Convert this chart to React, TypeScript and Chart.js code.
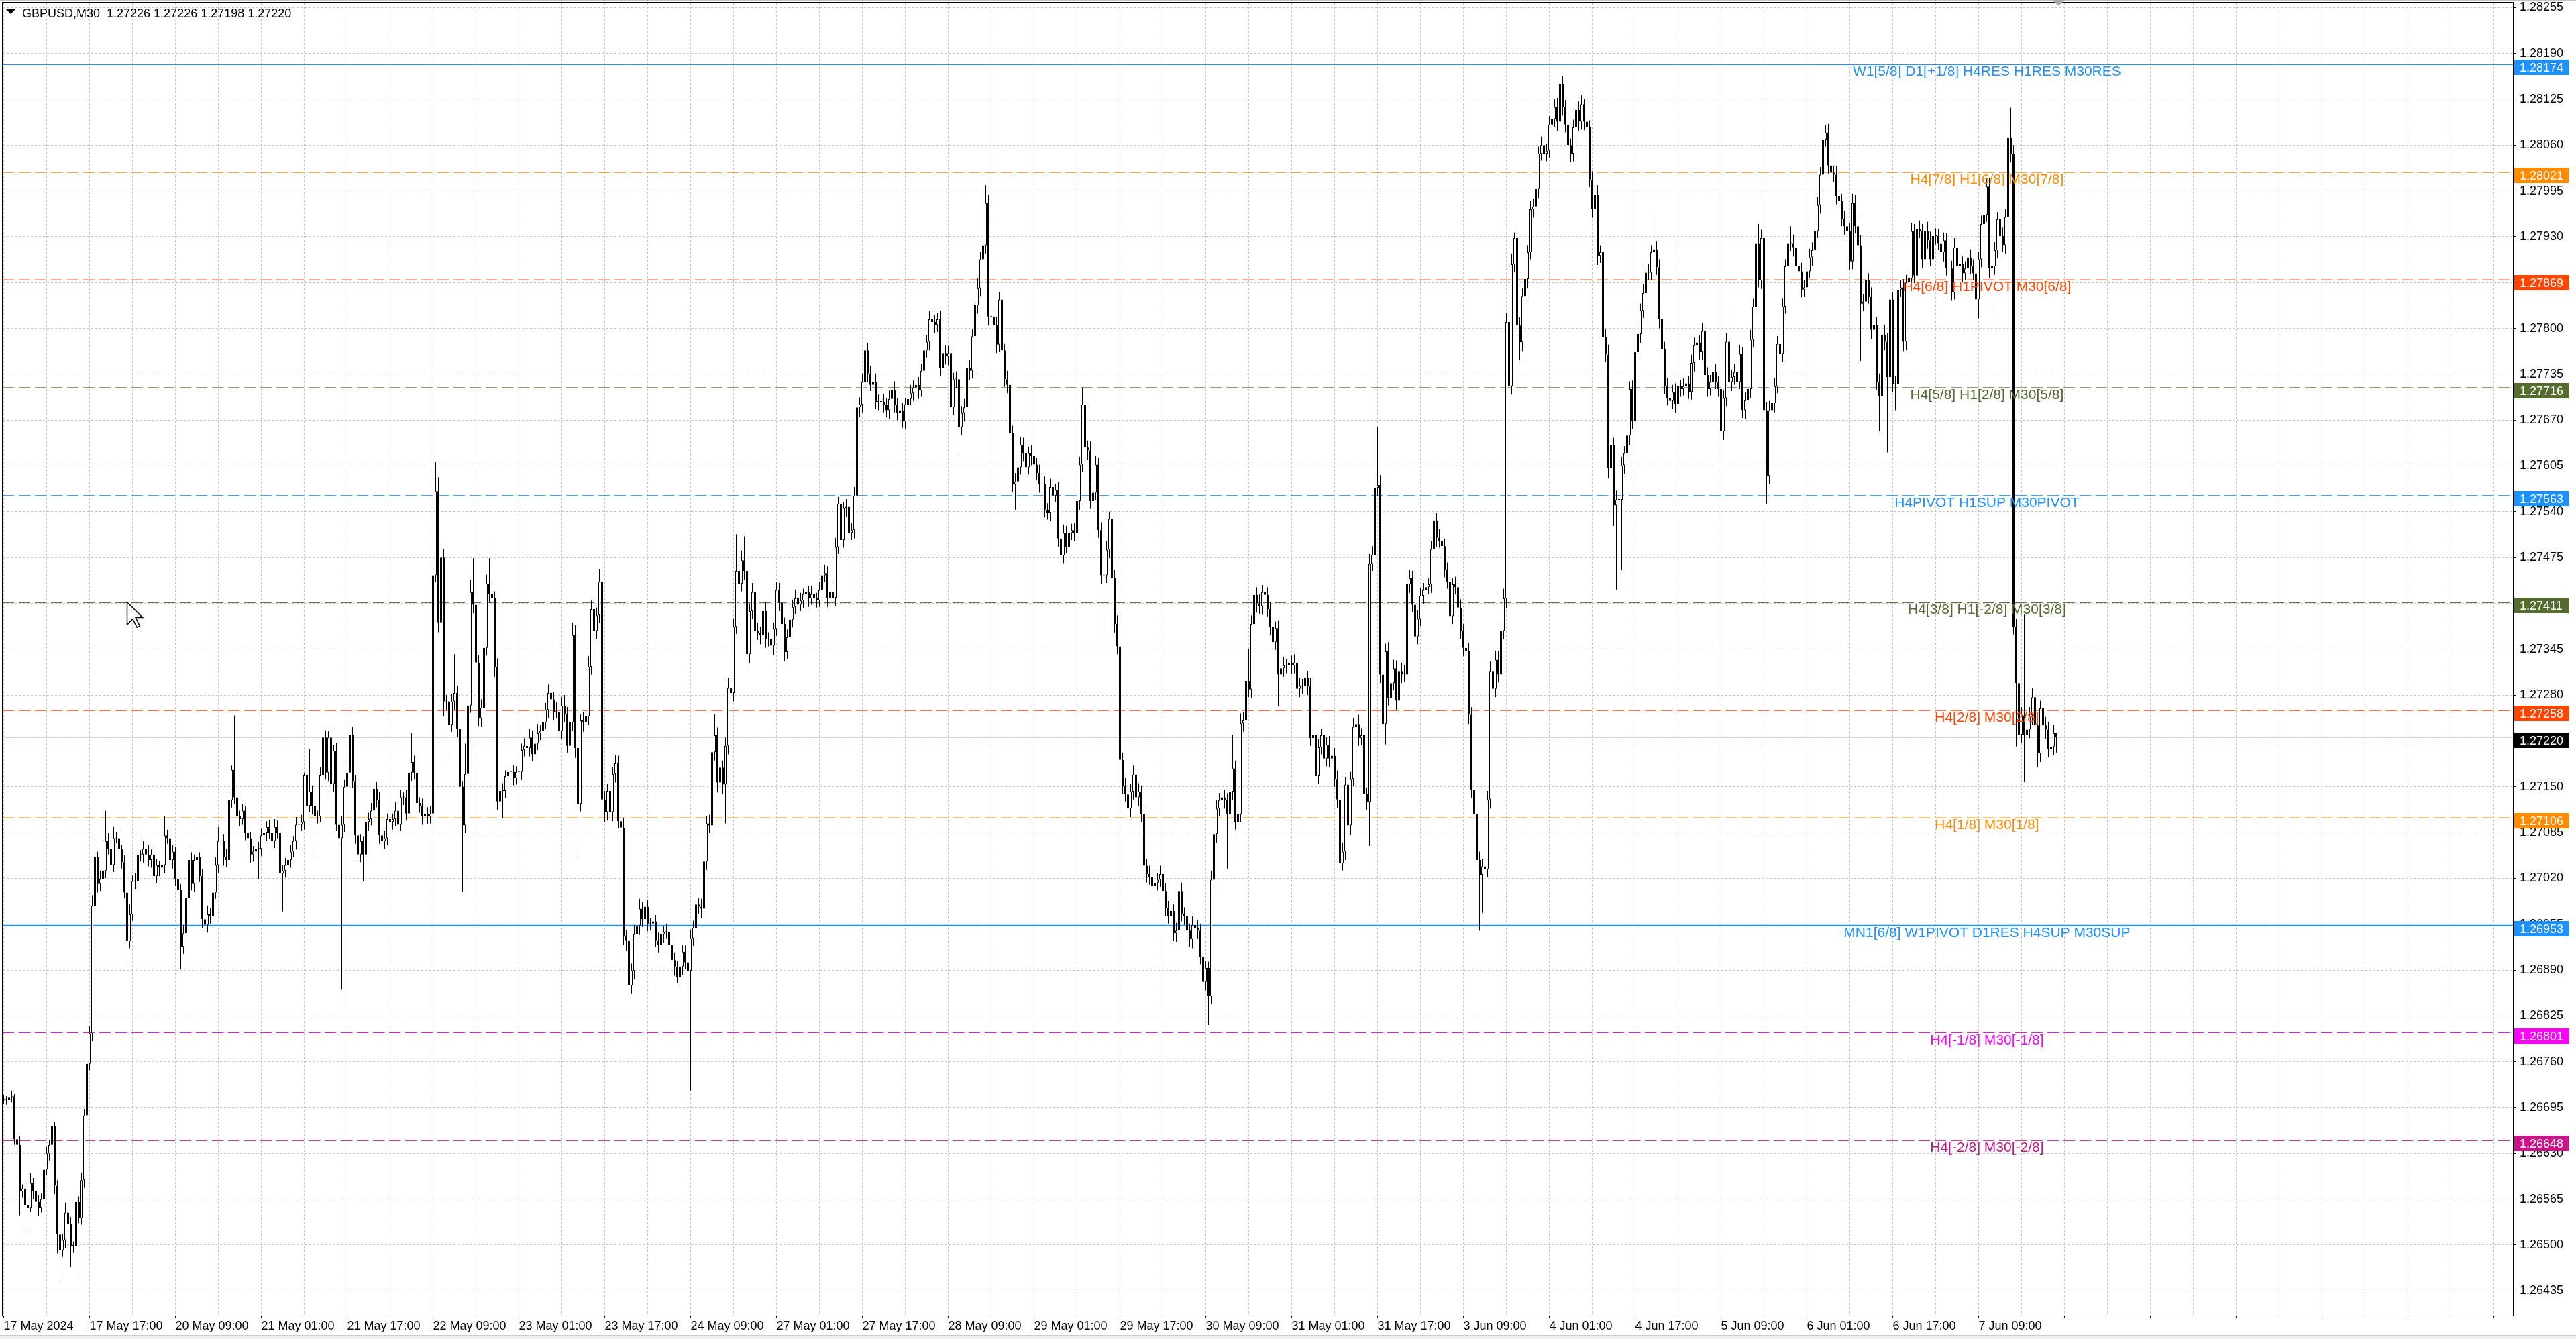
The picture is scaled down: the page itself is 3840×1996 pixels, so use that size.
import React, { useEffect, useRef } from 'react';
import { Chart, registerables } from 'chart.js';

Chart.register(...registerables);

const SYMBOL = 'GBPUSD,M30';
const BASE_PRICE = 1.26;
const POINT = 0.00001;

// M30 candles, in points above 1.26000. Open of each bar is the previous close.
const FIRST_OPEN = 705;
const CLOSES = [
  707, 706, 709, 711, 650, 642, 576, 580, 557, 553, 588, 576, 561, 553, 565, 607,
  630, 642, 669, 584, 515, 492, 507, 546, 530, 499, 499, 561, 538, 592, 684, 757,
  800, 981, 1050, 1012, 1019, 1031, 1073, 1062, 1039, 1077, 1077, 1062, 1043, 1000, 931, 969,
  1016, 1016, 1054, 1054, 1062, 1054, 1046, 1054, 1023, 1039, 1035, 1039, 1081, 1077, 1046, 1058,
  1019, 1004, 923, 942, 992, 1046, 1012, 1046, 1050, 1023, 962, 954, 969, 966, 1000, 1039,
  1073, 1073, 1050, 1046, 1131, 1174, 1135, 1108, 1104, 1116, 1085, 1077, 1054, 1058, 1062, 1062,
  1081, 1085, 1093, 1085, 1073, 1093, 1085, 1027, 1031, 1039, 1046, 1058, 1073, 1096, 1096, 1100,
  1166, 1123, 1143, 1123, 1108, 1108, 1166, 1220, 1170, 1220, 1154, 1201, 1096, 1077, 1096, 1150,
  1170, 1224, 1158, 1081, 1054, 1073, 1054, 1100, 1104, 1116, 1147, 1131, 1081, 1073, 1077, 1104,
  1100, 1104, 1116, 1096, 1135, 1135, 1112, 1170, 1185, 1170, 1127, 1123, 1108, 1112, 1108, 1112,
  1450, 1569, 1383, 1475, 1271, 1271, 1238, 1271, 1283, 1232, 1150, 1095, 1168, 1265, 1426, 1408,
  1326, 1247, 1262, 1347, 1438, 1423, 1417, 1320, 1129, 1144, 1144, 1165, 1171, 1171, 1162, 1171,
  1171, 1202, 1208, 1205, 1220, 1196, 1211, 1226, 1229, 1241, 1259, 1283, 1274, 1256, 1256, 1229,
  1265, 1253, 1208, 1241, 1365, 1205, 1126, 1244, 1241, 1250, 1320, 1402, 1371, 1393, 1441, 1132,
  1114, 1144, 1114, 1168, 1183, 1101, 1092, 938, 932, 868, 889, 941, 953, 977, 962, 980,
  956, 956, 959, 932, 926, 941, 944, 944, 926, 904, 895, 880, 895, 916, 901, 889,
  935, 950, 983, 980, 977, 1044, 1098, 1095, 1199, 1223, 1156, 1177, 1153, 1208, 1290, 1283,
  1377, 1456, 1438, 1471, 1456, 1338, 1399, 1426, 1371, 1368, 1365, 1399, 1359, 1359, 1350, 1374,
  1429, 1411, 1381, 1341, 1362, 1387, 1405, 1417, 1408, 1414, 1423, 1426, 1417, 1423, 1417, 1414,
  1429, 1450, 1453, 1417, 1426, 1418, 1490, 1551, 1500, 1545, 1547, 1510, 1514, 1563, 1688, 1692,
  1724, 1769, 1736, 1720, 1724, 1696, 1696, 1696, 1692, 1684, 1700, 1712, 1692, 1680, 1684, 1668,
  1692, 1700, 1708, 1716, 1720, 1712, 1740, 1769, 1781, 1813, 1809, 1805, 1813, 1744, 1765, 1760,
  1765, 1688, 1728, 1728, 1660, 1680, 1688, 1744, 1740, 1789, 1833, 1857, 1898, 1918, 1978, 1817,
  1817, 1805, 1777, 1841, 1769, 1728, 1720, 1652, 1579, 1583, 1603, 1635, 1623, 1603, 1623, 1619,
  1607, 1595, 1579, 1579, 1543, 1539, 1575, 1563, 1571, 1502, 1478, 1510, 1490, 1510, 1514, 1510,
  1555, 1607, 1692, 1631, 1627, 1555, 1567, 1607, 1514, 1450, 1450, 1486, 1530, 1446, 1381, 1349,
  1188, 1151, 1139, 1119, 1143, 1167, 1135, 1143, 1111, 1038, 1026, 1022, 1010, 1014, 1018, 1026,
  1002, 978, 966, 974, 942, 946, 1002, 970, 966, 946, 934, 954, 950, 946, 909, 873,
  893, 853, 1018, 1083, 1119, 1131, 1135, 1131, 1111, 1143, 1176, 1099, 1111, 1240, 1244, 1300,
  1288, 1381, 1422, 1410, 1406, 1426, 1422, 1402, 1377, 1355, 1375, 1309, 1318, 1322, 1322, 1326,
  1322, 1326, 1289, 1293, 1293, 1305, 1293, 1219, 1223, 1165, 1206, 1223, 1190, 1210, 1190, 1194,
  1161, 1132, 1041, 1058, 1153, 1095, 1161, 1235, 1239, 1219, 1223, 1140, 1128, 1466, 1479, 1574,
  1578, 1309, 1239, 1342, 1276, 1297, 1318, 1272, 1314, 1309, 1309, 1437, 1446, 1408, 1363, 1388,
  1421, 1429, 1433, 1437, 1487, 1528, 1503, 1499, 1491, 1458, 1441, 1392, 1437, 1433, 1404, 1371,
  1347, 1342, 1252, 1145, 1111, 1046, 1025, 1037, 1033, 1132, 1314, 1289, 1330, 1309, 1371, 1417,
  1809, 1718, 1891, 1928, 1804, 1780, 1846, 1870, 1908, 1969, 1973, 1998, 2048, 2060, 2048, 2052,
  2089, 2097, 2114, 2093, 2147, 2114, 2089, 2060, 2048, 2085, 2110, 2093, 2118, 2093, 2085, 2011,
  1969, 1990, 1903, 1908, 1788, 1763, 1602, 1635, 1549, 1557, 1557, 1606, 1623, 1648, 1714, 1668,
  1767, 1792, 1825, 1850, 1879, 1879, 1908, 1912, 1887, 1813, 1771, 1718, 1701, 1697, 1710, 1693,
  1718, 1714, 1718, 1722, 1710, 1751, 1776, 1780, 1767, 1796, 1734, 1714, 1724, 1738, 1724, 1714,
  1654, 1701, 1781, 1724, 1731, 1738, 1724, 1764, 1684, 1698, 1714, 1784, 1831, 1921, 1868, 1928,
  1684, 1591, 1684, 1694, 1718, 1778, 1764, 1831, 1888, 1921, 1921, 1915, 1888, 1881, 1855, 1858,
  1881, 1901, 1911, 1938, 1975, 2018, 2068, 2078, 2031, 2021, 2018, 1988, 1981, 1955, 1945, 1938,
  1895, 1978, 1945, 1918, 1835, 1838, 1868, 1845, 1798, 1805, 1724, 1704, 1791, 1781, 1731, 1841,
  1721, 1721, 1855, 1858, 1781, 1865, 1871, 1938, 1875, 1941, 1938, 1898, 1938, 1925, 1898, 1931,
  1931, 1921, 1908, 1925, 1885, 1885, 1851, 1915, 1888, 1891, 1878, 1885, 1901, 1888, 1878, 1841,
  1898, 1948, 1961, 2001, 1885, 1888, 1911, 1955, 1931, 1918, 1958, 2071, 2048, 1377, 1297, 1224,
  1251, 1224, 1231, 1251, 1277, 1237, 1197, 1261, 1237, 1231, 1204, 1207, 1226, 1220,
];

// wick length above the body / below the body, in points
const UPPER_WICKS = [
  6, 4, 5, 8, 3, 10, 12, 6, 9, 5, 14, 7, 6, 10, 8, 12,
  9, 7, 27, 6, 8, 11, 9, 14, 7, 10, 6, 12, 8, 11, 9, 13,
  10, 15, 27, 8, 12, 9, 43, 11, 7, 16, 9, 12, 6, 10, 8, 14,
  8, 12, 9, 6, 11, 8, 13, 7, 10, 9, 6, 12, 27, 8, 11, 9,
  7, 10, 8, 12, 9, 23, 11, 8, 13, 7, 10, 6, 12, 9, 8, 11,
  20, 8, 10, 12, 9, 6, 77, 11, 8, 10, 7, 13, 9, 8, 11, 10,
  9, 12, 8, 10, 7, 11, 9, 13, 8, 10, 12, 9, 7, 11, 8, 10,
  4, 10, 61, 9, 12, 8, 11, 15, 10, 9, 13, 8, 11, 9, 12, 10,
  9, 42, 11, 8, 13, 10, 7, 12, 9, 11, 8, 10, 12, 9, 11, 8,
  10, 8, 12, 9, 11, 7, 10, 12, 41, 9, 11, 8, 10, 7, 9, 11,
  14, 42, 20, 15, 12, 9, 14, 11, 55, 10, 13, 8, 43, 12, 18, 48,
  14, 11, 12, 16, 13, 36, 79, 10, 12, 9, 11, 8, 10, 12, 9, 8,
  10, 9, 11, 8, 12, 10, 9, 13, 8, 11, 10, 12, 9, 10, 14, 8,
  12, 15, 10, 13, 18, 14, 11, 9, 12, 10, 15, 12, 14, 11, 18, 13,
  12, 10, 14, 9, 12, 11, 10, 14, 9, 12, 10, 13, 11, 14, 9, 12,
  10, 8, 12, 9, 11, 10, 8, 12, 9, 10, 11, 8, 12, 10, 9, 11,
  12, 10, 13, 9, 11, 14, 10, 12, 15, 30, 11, 13, 10, 12, 14, 11,
  12, 52, 10, 14, 34, 12, 11, 13, 10, 12, 9, 11, 13, 10, 12, 9,
  11, 10, 12, 9, 11, 8, 10, 12, 9, 11, 8, 10, 9, 12, 10, 8,
  11, 9, 12, 10, 8, 11, 13, 10, 12, 9, 11, 14, 10, 12, 13, 10,
  12, 14, 10, 11, 9, 12, 10, 8, 11, 9, 12, 10, 13, 9, 11, 10,
  9, 11, 12, 10, 8, 11, 10, 12, 9, 11, 13, 10, 9, 12, 10, 11,
  10, 12, 9, 11, 13, 10, 12, 9, 11, 10, 12, 14, 10, 13, 25, 12,
  11, 14, 12, 10, 13, 9, 12, 11, 10, 12, 9, 11, 10, 12, 9, 11,
  10, 9, 12, 10, 11, 9, 12, 10, 8, 11, 9, 12, 10, 11, 9, 10,
  12, 11, 24, 12, 10, 13, 11, 12, 10, 11, 14, 12, 10, 13, 11, 12,
  11, 10, 12, 9, 11, 13, 10, 12, 9, 11, 10, 12, 9, 11, 10, 12,
  9, 11, 10, 12, 9, 11, 10, 12, 9, 11, 10, 12, 9, 11, 10, 12,
  10, 9, 13, 11, 12, 10, 9, 11, 10, 12, 48, 11, 10, 14, 12, 11,
  45, 12, 44, 11, 13, 10, 12, 11, 10, 12, 9, 11, 10, 12, 9, 11,
  10, 12, 9, 11, 10, 12, 9, 11, 13, 10, 12, 9, 11, 10, 12, 9,
  11, 12, 10, 13, 11, 14, 10, 12, 11, 13, 10, 12, 9, 14, 12, 16,
  82, 14, 12, 11, 13, 10, 12, 11, 10, 12, 14, 12, 11, 10, 12, 13,
  11, 10, 12, 9, 11, 13, 10, 12, 9, 11, 10, 12, 9, 11, 10, 12,
  10, 9, 12, 11, 10, 13, 12, 11, 10, 12, 14, 11, 13, 12, 11, 14,
  13, 12, 15, 8, 14, 12, 11, 13, 10, 12, 11, 13, 10, 12, 11, 10,
  12, 10, 11, 13, 24, 11, 10, 12, 9, 11, 10, 12, 13, 8, 11, 10,
  12, 11, 13, 10, 12, 11, 14, 12, 10, 13, 11, 12, 10, 13, 11, 12,
  11, 12, 10, 13, 11, 12, 10, 57, 12, 11, 13, 10, 12, 11, 10, 12,
  10, 9, 11, 8, 10, 12, 11, 13, 10, 12, 9, 11, 10, 12, 11, 9,
  12, 11, 13, 44, 10, 12, 11, 13, 10, 12, 11, 14, 12, 13, 27, 12,
  11, 12, 13, 10, 12, 11, 14, 12, 10, 13, 24, 12, 11, 10, 12, 11,
  10, 12, 11, 13, 12, 11, 10, 10, 12, 11, 10, 12, 11, 10, 12, 11,
  12, 13, 11, 12, 14, 11, 12, 10, 13, 12, 11, 12, 117, 14, 12, 13,
  11, 12, 13, 10, 12, 11, 13, 12, 10, 11, 12, 10, 11, 13, 12, 10,
  11, 10, 12, 11, 10, 12, 11, 13, 10, 12, 11, 10, 12, 11, 10, 12,
  11, 12, 10, 13, 12, 11, 12, 10, 11, 12, 11, 14, 42, 12, 11, 13,
  12, 143, 11, 12, 13, 10, 12, 11, 13, 12, 11, 10, 12, 0,
];

const LOWER_WICKS = [
  5, 7, 4, 6, 8, 10, 34, 9, 38, 34, 6, 11, 8, 12, 7, 9,
  8, 10, 6, 12, 27, 43, 9, 11, 8, 30, 10, 42, 7, 9, 11, 8,
  9, 11, 8, 12, 10, 9, 11, 8, 12, 10, 7, 11, 9, 8, 31, 10,
  9, 11, 8, 10, 12, 7, 9, 11, 8, 10, 12, 9, 11, 8, 10, 12,
  9, 11, 31, 10, 8, 12, 9, 11, 10, 8, 12, 9, 11, 10, 8, 9,
  11, 9, 12, 10, 8, 11, 9, 12, 10, 8, 11, 9, 12, 10, 9, 43,
  10, 8, 12, 9, 11, 10, 8, 12, 54, 10, 9, 11, 8, 12, 10, 9,
  11, 10, 9, 12, 54, 10, 8, 11, 9, 12, 10, 11, 9, 13, 215, 10,
  9, 11, 10, 12, 9, 11, 38, 10, 12, 9, 11, 10, 12, 9, 11, 10,
  9, 11, 10, 12, 9, 11, 10, 8, 12, 9, 11, 10, 12, 9, 11, 10,
  12, 10, 14, 11, 21, 13, 46, 10, 12, 11, 12, 94, 11, 13, 10, 12,
  13, 11, 12, 10, 11, 12, 10, 14, 12, 11, 39, 10, 9, 11, 10, 9,
  10, 11, 9, 10, 12, 10, 11, 9, 10, 11, 9, 12, 10, 11, 9, 10,
  11, 12, 10, 13, 12, 14, 73, 11, 13, 10, 12, 11, 10, 12, 11, 73,
  14, 12, 11, 13, 12, 10, 14, 12, 15, 15, 11, 12, 10, 13, 11, 12,
  11, 10, 12, 9, 11, 10, 12, 9, 11, 10, 13, 9, 11, 12, 10, 11,
  170, 11, 12, 10, 13, 11, 12, 10, 11, 12, 14, 11, 13, 55, 12, 11,
  12, 10, 13, 11, 12, 18, 13, 11, 12, 10, 13, 11, 12, 10, 11, 13,
  10, 12, 11, 13, 10, 12, 11, 10, 12, 9, 11, 10, 12, 9, 11, 10,
  9, 11, 10, 12, 9, 11, 12, 10, 13, 11, 12, 76, 10, 12, 11, 13,
  11, 10, 12, 9, 11, 10, 12, 9, 11, 10, 12, 9, 11, 10, 12, 9,
  10, 12, 9, 11, 10, 12, 9, 11, 10, 12, 9, 11, 10, 12, 9, 11,
  12, 10, 11, 13, 37, 11, 12, 10, 13, 11, 10, 12, 11, 10, 12, 13,
  97, 11, 12, 10, 13, 11, 12, 10, 11, 36, 12, 10, 11, 12, 10, 13,
  11, 10, 12, 9, 11, 10, 12, 11, 9, 12, 10, 11, 9, 12, 10, 11,
  10, 12, 11, 10, 13, 11, 12, 10, 11, 13, 97, 11, 12, 10, 13, 11,
  12, 11, 10, 13, 12, 11, 10, 12, 11, 10, 12, 11, 10, 12, 11, 10,
  12, 11, 10, 13, 11, 12, 10, 11, 12, 10, 11, 13, 10, 12, 11, 10,
  12, 41, 11, 10, 12, 11, 10, 12, 77, 11, 12, 10, 44, 11, 12, 10,
  11, 12, 10, 13, 11, 12, 10, 11, 12, 10, 11, 45, 10, 12, 11, 10,
  12, 11, 10, 12, 11, 10, 13, 11, 10, 12, 11, 10, 12, 11, 13, 10,
  11, 12, 41, 10, 12, 11, 13, 10, 12, 11, 10, 12, 11, 62, 10, 12,
  11, 12, 62, 29, 11, 12, 10, 13, 11, 12, 10, 11, 12, 10, 13, 11,
  10, 12, 11, 10, 12, 11, 13, 10, 12, 11, 10, 12, 11, 10, 12, 11,
  12, 10, 13, 11, 12, 10, 79, 54, 12, 11, 13, 10, 12, 11, 13, 12,
  14, 70, 12, 11, 13, 25, 12, 11, 13, 10, 12, 11, 13, 10, 12, 11,
  10, 12, 11, 13, 10, 12, 11, 10, 12, 11, 10, 13, 11, 12, 10, 11,
  12, 11, 13, 10, 12, 11, 14, 12, 29, 120, 11, 99, 12, 10, 13, 11,
  12, 11, 13, 10, 12, 11, 10, 12, 11, 13, 12, 11, 10, 12, 11, 13,
  10, 11, 9, 12, 10, 11, 12, 10, 11, 12, 10, 11, 9, 12, 10, 11,
  10, 12, 11, 10, 13, 11, 12, 10, 11, 12, 10, 13, 11, 12, 10, 12,
  10, 40, 12, 11, 13, 10, 12, 11, 10, 12, 11, 13, 10, 12, 11, 10,
  11, 10, 12, 11, 10, 12, 11, 10, 12, 11, 10, 12, 11, 10, 12, 11,
  12, 11, 10, 12, 81, 11, 12, 10, 13, 11, 12, 50, 11, 12, 107, 10,
  11, 37, 12, 10, 13, 11, 12, 10, 11, 12, 10, 13, 11, 12, 10, 11,
  12, 10, 11, 13, 10, 12, 11, 10, 12, 11, 13, 10, 12, 11, 10, 12,
  27, 11, 12, 10, 13, 61, 12, 11, 13, 10, 12, 11, 12, 11, 90, 60,
  12, 67, 11, 12, 13, 10, 20, 12, 11, 13, 12, 11, 12, 22,
];

// one label every 32 bars, starting at bar 0
const TIME_LABELS = [
  '17 May 2024', '17 May 17:00', '20 May 09:00', '21 May 01:00', '21 May 17:00', '22 May 09:00',
  '23 May 01:00', '23 May 17:00', '24 May 09:00', '27 May 01:00', '27 May 17:00', '28 May 09:00',
  '29 May 01:00', '29 May 17:00', '30 May 09:00', '31 May 01:00', '31 May 17:00', '3 Jun 09:00',
  '4 Jun 01:00', '4 Jun 17:00', '5 Jun 09:00', '6 Jun 01:00', '6 Jun 17:00', '7 Jun 09:00',
];

const PRICE_TICKS = [
  1.26435, 1.265, 1.26565, 1.2663, 1.26695, 1.2676, 1.26825, 1.2689, 1.26955, 1.2702,
  1.27085, 1.2715, 1.27215, 1.2728, 1.27345, 1.2741, 1.27475, 1.2754, 1.27605, 1.2767,
  1.27735, 1.278, 1.27865, 1.2793, 1.27995, 1.2806, 1.28125, 1.2819, 1.28255,
];

const LEVEL_PRICES = [
  1.28174, 1.28021, 1.27869, 1.27716, 1.27563, 1.27411, 1.27258, 1.27106, 1.26953, 1.26801, 1.26648,
];
const LEVEL_NAMES = [
  'W1[5/8] D1[+1/8] H4RES H1RES M30RES',
  'H4[7/8] H1[6/8] M30[7/8]',
  'H4[6/8] H1PIVOT M30[6/8]',
  'H4[5/8] H1[2/8] M30[5/8]',
  'H4PIVOT H1SUP M30PIVOT',
  'H4[3/8] H1[-2/8] M30[3/8]',
  'H4[2/8] M30[2/8]',
  'H4[1/8] M30[1/8]',
  'MN1[6/8] W1PIVOT D1RES H4SUP M30SUP',
  'H4[-1/8] M30[-1/8]',
  'H4[-2/8] M30[-2/8]',
];

// styling of the levels
const LEVEL_COLORS = [
  '#1e90ff', '#ff8c00', '#ff4500', '#556b2f', '#1e90ff', '#556b2f', '#ff4500', '#ff8c00', '#1e90ff', '#ff00ff', '#c71585',
];
const LEVEL_SOLID = [true, false, false, false, false, false, false, false, true, false, false];
const LEVEL_WIDTH = [1, 1, 1, 1, 1, 1, 1, 1, 2, 1, 1];

const FONT = '"Liberation Sans", Arial, sans-serif';
const X_MIN = -0.375;
const X_MAX = 935.125;
const Y_MIN = 1.264;
const Y_MAX = 1.28262;
const LABEL_BAR = 739.1;
const LABEL_EVERY = 32;
const GRID_EVERY = 16;

const toPrice = (pts: number) => Number((BASE_PRICE + pts * POINT).toFixed(5));

const opens = CLOSES.map((c, i) => (i === 0 ? FIRST_OPEN : CLOSES[i - 1]));
const highs = CLOSES.map((c, i) => Math.max(opens[i], c) + UPPER_WICKS[i]);
const lows = CLOSES.map((c, i) => Math.min(opens[i], c) - LOWER_WICKS[i]);
const last = CLOSES.length - 1;
const currentPrice = toPrice(CLOSES[last]);

const overlay = {
  id: 'mt4Overlay',
  beforeDraw(chart: any) {
    const { ctx, width, height } = chart;
    ctx.save();
    ctx.fillStyle = '#ffffff';
    ctx.fillRect(0, 0, width, height);
    ctx.fillStyle = '#c4c4c4';
    ctx.fillRect(0, 0, width, 2);
    ctx.fillStyle = '#f0f0f0';
    ctx.fillRect(0, height - 6, width, 6);
    ctx.fillStyle = '#cfcfcf';
    ctx.fillRect(0, height - 6, width, 1);
    ctx.restore();
  },
  afterDatasetsDraw(chart: any) {
    const { ctx, scales } = chart;
    const cx = scales.x.getPixelForValue(LABEL_BAR);
    ctx.save();
    ctx.font = `21px ${FONT}`;
    ctx.textAlign = 'center';
    ctx.textBaseline = 'alphabetic';
    LEVEL_PRICES.forEach((p, i) => {
      ctx.fillStyle = LEVEL_COLORS[i];
      ctx.fillText(LEVEL_NAMES[i], cx, scales.y.getPixelForValue(p) + 17);
    });
    ctx.restore();
  },
  afterDraw(chart: any) {
    const { ctx, chartArea, scales } = chart;
    const { left, top, right, bottom } = chartArea;
    ctx.save();
    ctx.strokeStyle = '#000';
    ctx.lineWidth = 1;
    ctx.strokeRect(left - 0.5, top - 0.5, right - left + 1, bottom - top + 1);

    // price tags on the axis
    const tag = (price: number, color: string) => {
      const y = Math.round(scales.y.getPixelForValue(price));
      ctx.fillStyle = color;
      ctx.fillRect(right + 2, y - 7, 81, 23);
      ctx.fillStyle = '#ffffff';
      ctx.font = `18px ${FONT}`;
      ctx.textAlign = 'left';
      ctx.textBaseline = 'alphabetic';
      ctx.fillText(price.toFixed(5), right + 10, y + 11);
    };
    LEVEL_PRICES.forEach((p, i) => tag(p, LEVEL_COLORS[i]));
    tag(currentPrice, '#000000');

    // header
    ctx.fillStyle = '#000';
    ctx.beginPath();
    ctx.moveTo(9, 14);
    ctx.lineTo(23, 14);
    ctx.lineTo(16, 21);
    ctx.closePath();
    ctx.fill();
    ctx.font = `18px ${FONT}`;
    ctx.textAlign = 'left';
    ctx.textBaseline = 'alphabetic';
    const ohlc = [opens[last], highs[last], lows[last], CLOSES[last]].map((v) => toPrice(v).toFixed(5)).join(' ');
    ctx.fillText(`${SYMBOL}  ${ohlc}`, 33, 26);

    // chart shift marker
    const sx = scales.x.getPixelForValue(X_MIN + 766.2);
    ctx.fillStyle = '#a8a8a8';
    ctx.beginPath();
    ctx.moveTo(sx - 9, 0);
    ctx.lineTo(sx + 9, 0);
    ctx.lineTo(sx, 9);
    ctx.closePath();
    ctx.fill();

    // mouse pointer
    const arrow = [[0, 0], [0, 16], [4, 12], [7, 18], [9, 17], [6, 11], [11, 11]];
    ctx.beginPath();
    arrow.forEach(([ax, ay], i) => {
      const px = 189.5 + ax * 2.1;
      const py = 897.5 + ay * 2.1;
      if (i === 0) ctx.moveTo(px, py);
      else ctx.lineTo(px, py);
    });
    ctx.closePath();
    ctx.fillStyle = '#ffffff';
    ctx.fill();
    ctx.strokeStyle = '#000';
    ctx.lineWidth = 1.5;
    ctx.stroke();
    ctx.restore();
  },
};

export default function App() {
  const canvasRef = useRef<HTMLCanvasElement | null>(null);

  useEffect(() => {
    const wickData = CLOSES.map((c, i) => ({ x: i, y: [toPrice(lows[i]), toPrice(highs[i])] }));
    const bodyData = CLOSES.map((c, i) => ({ x: i, y: [toPrice(opens[i]), toPrice(c)] }));
    const bodyColors = CLOSES.map((c, i) => (c >= opens[i] ? '#ffffff' : '#000000'));

    const levelSets = LEVEL_PRICES.map((p, i) => ({
      type: 'line' as const,
      data: [{ x: X_MIN, y: p }, { x: X_MAX, y: p }],
      borderColor: LEVEL_COLORS[i],
      borderWidth: LEVEL_WIDTH[i],
      borderDash: LEVEL_SOLID[i] ? [] : [17, 7],
      pointRadius: 0,
      fill: false,
      order: 4,
    }));

    const gridTicks: { value: number }[] = [];
    for (let v = 0; v <= X_MAX; v += GRID_EVERY) gridTicks.push({ value: v });

    const chart = new Chart(canvasRef.current as HTMLCanvasElement, {
      type: 'bar',
      data: {
        datasets: [
          {
            type: 'bar',
            data: bodyData as any,
            backgroundColor: bodyColors,
            borderColor: '#000000',
            borderWidth: 1,
            borderSkipped: false,
            barThickness: 3,
            maxBarThickness: 3,
            minBarLength: 1,
            inflateAmount: 0,
            grouped: false,
            order: 1,
          },
          {
            type: 'bar',
            data: wickData as any,
            backgroundColor: '#000000',
            borderWidth: 0,
            barThickness: 1,
            maxBarThickness: 1,
            inflateAmount: 0,
            grouped: false,
            order: 2,
          },
          ...levelSets,
          {
            type: 'line',
            data: [{ x: X_MIN, y: currentPrice }, { x: X_MAX, y: currentPrice }],
            borderColor: '#c0c0c0',
            borderWidth: 1,
            pointRadius: 0,
            fill: false,
            order: 5,
          },
        ] as any,
      },
      options: {
        animation: false,
        responsive: true,
        maintainAspectRatio: false,
        devicePixelRatio: 1,
        events: [],
        layout: { padding: { left: 4, top: 4, right: 0, bottom: 0 } },
        plugins: { legend: { display: false }, tooltip: { enabled: false } },
        scales: {
          x: {
            type: 'linear',
            min: X_MIN,
            max: X_MAX,
            bounds: 'data',
            offset: false,
            afterBuildTicks: (s: any) => {
              s.ticks = gridTicks.map((t) => ({ ...t }));
            },
            afterFit: (s: any) => {
              s.height = 35;
              s.paddingLeft = 0;
              s.paddingRight = 0;
            },
            grid: {
              offset: false,
              color: '#c4c4c4',
              lineWidth: 1,
              drawTicks: true,
              tickLength: 4,
              tickColor: (c: any) => (c.tick && c.tick.value % LABEL_EVERY === 0 ? '#000000' : 'rgba(0,0,0,0)'),
            },
            border: { display: true, color: '#000000', width: 1, dash: [3, 3] },
            ticks: {
              autoSkip: false,
              maxRotation: 0,
              minRotation: 0,
              align: 'start',
              padding: 1,
              color: '#000000',
              font: { family: FONT, size: 18 },
              callback: (v: any) => {
                const n = Number(v);
                if (n % LABEL_EVERY !== 0) return '';
                return TIME_LABELS[n / LABEL_EVERY] ?? '';
              },
            },
          },
          y: {
            type: 'linear',
            position: 'right',
            min: Y_MIN,
            max: Y_MAX,
            bounds: 'data',
            beginAtZero: false,
            afterBuildTicks: (s: any) => {
              s.ticks = PRICE_TICKS.map((value) => ({ value }));
            },
            afterFit: (s: any) => {
              s.width = 94;
              s.paddingTop = 0;
              s.paddingBottom = 0;
            },
            grid: { color: '#c4c4c4', lineWidth: 1, tickLength: 4, tickColor: '#000000' },
            border: { display: true, color: '#000000', width: 1, dash: [3, 3] },
            ticks: {
              padding: 6,
              color: '#000000',
              font: { family: FONT, size: 18 },
              callback: (v: any) => Number(v).toFixed(5),
            },
          },
        },
      } as any,
      plugins: [overlay],
    });

    return () => chart.destroy();
  }, []);

  return (
    <div style={{ position: 'fixed', left: 0, top: 0, width: '100vw', height: '100vh', background: '#ffffff' }}>
      <canvas ref={canvasRef} />
    </div>
  );
}
